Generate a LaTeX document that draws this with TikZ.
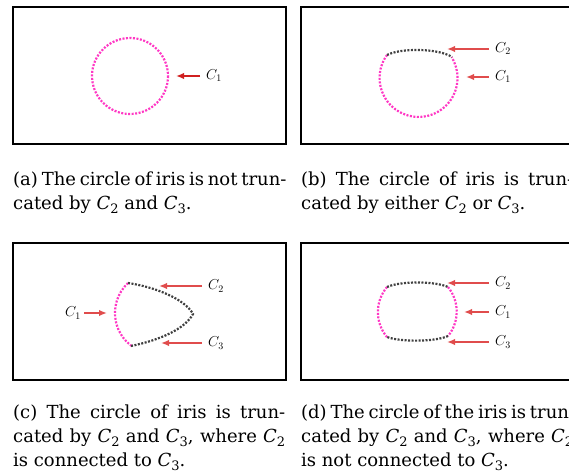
\documentclass[tikz,border=0pt]{standalone}
\usepackage{fontspec}
\setmainfont{DejaVu Serif}
\usetikzlibrary{arrows.meta}
\definecolor{irispink}{HTML}{FF38C4}
\definecolor{lidgray}{HTML}{404040}
\definecolor{arrowred}{HTML}{E04C4C}
\definecolor{arrowdark}{HTML}{D02020}
\newcommand\Csub[1]{\textit{C}\raisebox{-0.25em}{\fontsize{13}{13}\selectfont #1}}
\newcommand\capline[1]{\makebox[272pt][s]{#1}}
\newcommand\capend[1]{\makebox[272pt][l]{#1}}
\newcommand\capblock[1]{\vtop{\hsize=272pt\parindent=0pt\baselineskip=24pt\lineskiplimit=-20pt #1}}
\begin{document}
\begin{tikzpicture}[x=1pt,y=-1pt,
  panel/.style={draw=black, line width=1.1pt},
  dotpink/.style={draw=irispink, line width=2.2pt, dash pattern=on 2pt off 1.5pt},
  dotgray/.style={draw=lidgray, line width=2.2pt, dash pattern=on 2pt off 1.5pt},
  pointer/.style={draw=arrowred, line width=2pt, -{Latex[length=8pt,width=6.5pt]}},
  lab/.style={inner sep=1pt, font=\fontsize{14}{14}\selectfont},
  capt/.style={anchor=base west, inner sep=0pt, font=\fontsize{18}{24}\selectfont}
]
\useasboundingbox (0,0) rectangle (569,473);
\clip (0,0) rectangle (569,473);

% panels
\draw[panel] (13,7) rectangle (286,144);
\draw[panel] (301,7) rectangle (574,144);
\draw[panel] (13,243) rectangle (286,380);
\draw[panel] (301,243) rectangle (574,380);

% ---- (a)
\draw[dotpink] (130,76) circle[radius=38];
\node[lab, anchor=west] (la1) at (205,76) {$C_1$};
\coordinate (ta1) at (176,76);
\draw[pointer, draw=arrowdark] ([xshift=-5pt]la1.west) -- (ta1);

% ---- (b)
\draw[dotpink] (387,55) arc[start angle=-144, end angle=-392, radius=39];
\draw[dotgray] (387,55) .. controls (400,48) and (438,48) .. (452,57);
\node[lab, anchor=west] (lb2) at (494,49) {$C_2$};
\node[lab, anchor=west] (lb1) at (494,77) {$C_1$};
\coordinate (tb2) at (447,49);
\coordinate (tb1) at (466,77);
\draw[pointer] ([xshift=-5pt]lb2.west) -- (tb2);
\draw[pointer] ([xshift=-5pt]lb1.west) -- (tb1);

% ---- (c)
\draw[dotpink] (128,283) arc[start angle=-133, end angle=-233, radius=41];
\draw[dotgray] (128,283) .. controls (155,287) and (185,299) .. (193,314)
                         .. controls (185,329) and (160,340) .. (131,346);
\node[lab, anchor=west] (lc2) at (207,286) {$C_2$};
\node[lab, anchor=west] (lc3) at (207,343) {$C_3$};
\node[lab, anchor=east] (lc1) at (82,313) {$C_1$};
\coordinate (tc2) at (159,286);
\coordinate (tc3) at (161,343);
\coordinate (tc1) at (107,313);
\draw[pointer] ([xshift=-5pt]lc2.west) -- (tc2);
\draw[pointer] ([xshift=-5pt]lc3.west) -- (tc3);
\draw[pointer] ([xshift=2pt]lc1.east) -- (tc1);

% ---- (d)
\draw[dotpink] (387,287) arc[start angle=-140, end angle=-220, radius=39];
\draw[dotgray] (387,287) .. controls (400,281) and (435,281) .. (448,287);
\draw[dotpink] (448,287) arc[start angle=-39, end angle=39, radius=39];
\draw[dotgray] (448,336) .. controls (435,342) and (400,342) .. (387,337);
\node[lab, anchor=west] (ld2) at (494,283) {$C_2$};
\node[lab, anchor=west] (ld1) at (494,312) {$C_1$};
\node[lab, anchor=west] (ld3) at (494,342) {$C_3$};
\coordinate (td2) at (447,283);
\coordinate (td1) at (464,312);
\coordinate (td3) at (447,342);
\draw[pointer] ([xshift=-5pt]ld2.west) -- (td2);
\draw[pointer] ([xshift=-5pt]ld1.west) -- (td1);
\draw[pointer] ([xshift=-5pt]ld3.west) -- (td3);

% ---- captions
\node[capt] (capa) at (13,185) {\capblock{%
  \capline{(a) The circle of iris is not trun-}\par
  \capend{cated by \Csub{2} and \Csub{3}.}}};
\node[capt] (capb) at (301,185) {\capblock{%
  \capline{(b) The circle of iris is trun-}\par
  \capend{cated by either \Csub{2} or \Csub{3}.}}};
\node[capt] (capc) at (13,418) {\capblock{%
  \capline{(c) The circle of iris is trun-}\par
  \capline{cated by \Csub{2} and \Csub{3}, where \Csub{2}}\par
  \capend{is connected to \Csub{3}.}}};
\node[capt] (capd) at (301,418) {\capblock{%
  \capline{(d) The circle of the iris is trun-}\par
  \capline{cated by \Csub{2} and \Csub{3}, where \Csub{2}}\par
  \capend{is not connected to \Csub{3}.}}};
\end{tikzpicture}
\end{document}
